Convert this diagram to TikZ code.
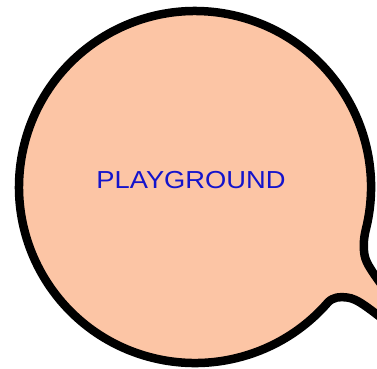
\documentclass[tikz,border=0pt]{standalone}
\usepackage{fontspec}
\setmainfont{Liberation Sans}
\definecolor{peach}{RGB}{252,197,165}
\definecolor{labelblue}{RGB}{20,20,204}
\tikzset{
  blob/.style={fill=peach, draw=black, line width=8.5pt, line join=round, line cap=round},
  labeltext/.style={text=labelblue, inner sep=0pt, font=\fontsize{24.6pt}{26pt}\selectfont}
}
\begin{document}
\begin{tikzpicture}[x=1pt,y=1pt]
\useasboundingbox (0,0) rectangle (377,368);
\clip (0,0) rectangle (377,368);
\path[blob] (386,77) .. controls (374,94) and (366,104) .. (364.5,113)
  .. controls (363.2,121) and (363.6,129.5) .. (365.8,138.4)
  arc[start angle=-14, end angle=319, radius=176]
  .. controls (333,71) and (340,71.5) .. (347,70.5)
  .. controls (357,69.5) and (367,61) .. (388,45);
\node[labeltext, anchor=base] (label) at (191,179.7) {\scalebox{1.11}[1]{PLAYGROUND}};
\end{tikzpicture}
\end{document}
